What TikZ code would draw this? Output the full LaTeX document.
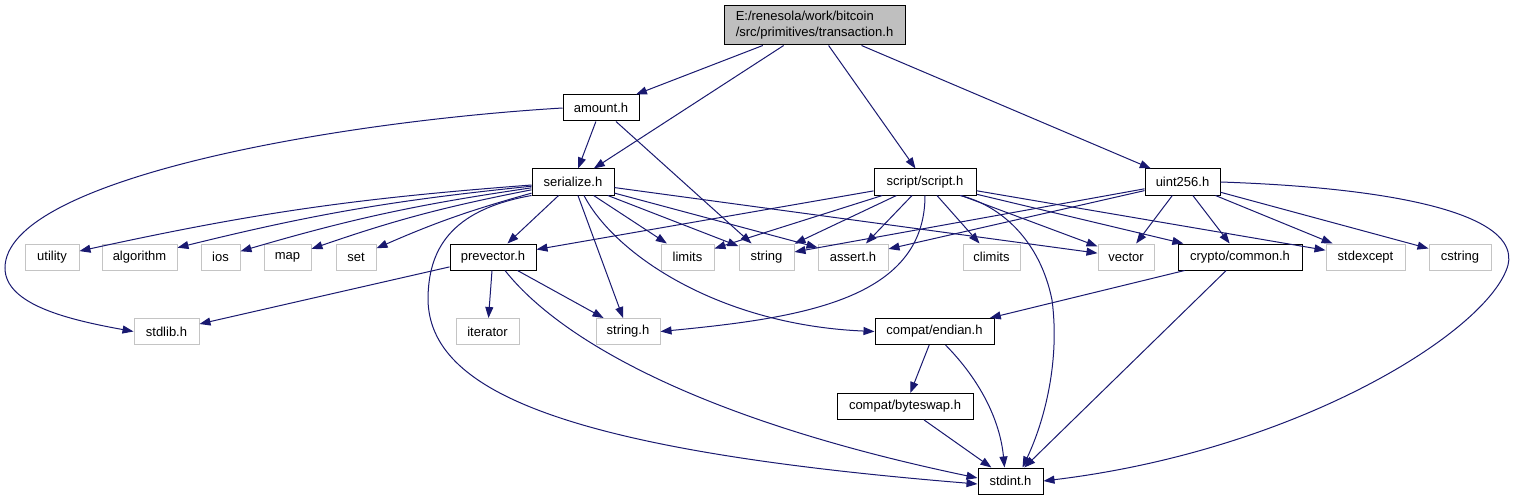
\documentclass[tikz,border=0pt]{standalone}
\usepackage{fontspec}
\setmainfont{Liberation Sans}
\usepackage{tikz}
\usetikzlibrary{arrows.meta}
\definecolor{edgeblue}{HTML}{191970}
\definecolor{sysgray}{HTML}{C4C4C4}
\definecolor{rootgray}{HTML}{BFBFBF}

\begin{document}
\begin{tikzpicture}[x=1pt,y=-1pt,
  every node/.style={font=\fontsize{13}{16}\selectfont,inner sep=0pt,minimum height=26pt},
  hdr/.style={draw=black,line width=1pt,fill=white},
  sys/.style={draw=sysgray,line width=1pt,fill=white},
  root/.style={draw=black,line width=1pt,fill=rootgray,align=left,minimum height=39pt},
  edge/.style={edgeblue,line width=1pt,-{Triangle[length=11pt,width=8pt]}}]
  \fill[white] (0,0) rectangle (1513,500);
  \useasboundingbox (0,0) rectangle (1513,500);

  \node[root,minimum width=181pt] (trans) at (814.5,25.5) {E:/renesola/work/bitcoin\\/src/primitives/transaction.h};
  \node[hdr,minimum width=76pt] (amount) at (601,108) {amount.h};
  \node[hdr,minimum width=82pt] (serial) at (573,182) {serialize.h};
  \node[hdr,minimum width=102pt] (script) at (925,182) {script/script.h};
  \node[hdr,minimum width=75pt] (uint) at (1182.5,182) {uint256.h};
  \node[hdr,minimum width=86pt] (prevector) at (493,257) {prevector.h};
  \node[hdr,minimum width=124pt] (crypto) at (1240,257) {crypto/common.h};
  \node[hdr,minimum width=119pt] (endian) at (934.5,331.5) {compat/endian.h};
  \node[hdr,minimum width=136pt] (byteswap) at (905,406.5) {compat/byteswap.h};
  \node[hdr,minimum width=65pt] (stdint) at (1010.5,481) {stdint.h};
  \foreach \nm/\txt/\x/\y/\w in {utility/utility/52/257/54, algorithm/algorithm/139.5/257/75,
      ios/ios/220.5/257/39, map/map/287.5/257/47, set/set/356/257/40,
      limits/limits/687.5/257/53, string/string/766.5/257/55, assert/assert.h/853/257/70,
      climits/climits/991.5/257/57, vector/vector/1126/257/56, stdexcept/stdexcept/1365.5/257/79,
      cstring/cstring/1460/257/62, stdlib/stdlib.h/166.5/331.5/65,
      iterator/iterator/487.5/331.5/63, stringh/string.h/628/331.5/64}
    \node[sys,minimum width=\w pt] (\nm) at (\x,\y) {\txt};

  \foreach \b in {utility, algorithm, ios, map, set}
    \draw[edge] (serial) to[bend right=4] (\b);
  \foreach \a/\b in {trans/amount, trans/serial, trans/script, trans/uint,
      amount/serial, amount/string,
      serial/prevector, serial/limits, serial/string, serial/assert, serial/vector, serial/stringh,
      script/prevector, script/limits, script/string, script/assert, script/climits,
      script/vector, script/crypto, script/stdexcept,
      uint/string, uint/assert, uint/vector, uint/crypto, uint/stdexcept, uint/cstring,
      prevector/stdlib, prevector/iterator, prevector/stringh,
      crypto/endian, crypto/stdint, endian/byteswap, byteswap/stdint}
    \draw[edge] (\a) -- (\b);

  \draw[edge] (amount.west) .. controls (330,122) and (5,180) .. (5,268)
    .. controls (5,305) and (70,320) .. (stdlib.west);
  \draw[edge] (serial.south west) .. controls (450,210) and (428,250) .. (428,300)
    .. controls (430,390) and (560,450) .. ([yshift=-3pt]stdint.west);
  \draw[edge] ([xshift=12pt]prevector.south) .. controls (560,340) and (700,420) .. ([yshift=3pt]stdint.west);
  \draw[edge] ([xshift=11pt]serial.south) .. controls (615,255) and (720,325) .. (endian.west);
  \draw[edge] (script.south) .. controls (925,300) and (800,318) .. (stringh.east);
  \draw[edge] ([xshift=35pt]script.south) .. controls (1000,205) and (1040,240) .. (1052,300)
    .. controls (1060,360) and (1045,420) .. ([xshift=12pt]stdint.north);
  \draw[edge] (uint.east) .. controls (1400,188) and (1520,215) .. (1508,265)
    .. controls (1490,330) and (1300,450) .. (stdint.east);
  \draw[edge] ([xshift=11pt]endian.south) .. controls (980,380) and (1000,420) .. ([xshift=-6pt]stdint.north);
\end{tikzpicture}
\end{document}
